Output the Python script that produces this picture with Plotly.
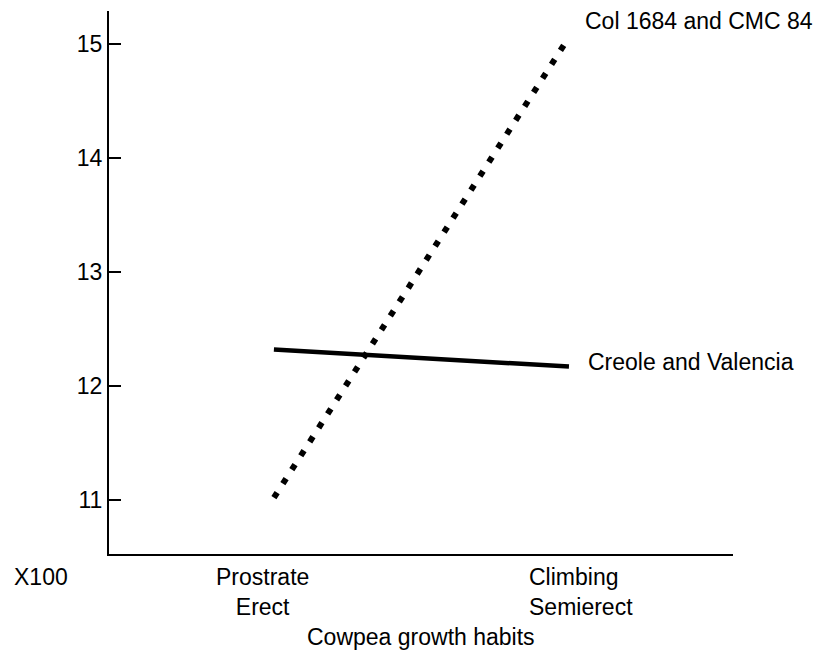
import plotly.graph_objects as go

# growth habit positions on the x axis (0 = prostrate/erect, 1 = climbing/semierect)
habit_pos = [0, 1]
habit_labels = ["Prostrate<br>Erect", "Climbing<br>Semierect"]

# yield values, x100
col_cmc = [11.02, 15.06]
creole_valencia = [12.32, 12.17]

y_ticks = [11, 12, 13, 14, 15]

FONT = "Liberation Sans, Arial, sans-serif"

fig = go.Figure()

fig.add_trace(go.Scatter(x=habit_pos, y=col_cmc, mode="lines",
                         line=dict(color="black", width=6, dash="6px,10.6px"),
                         hoverinfo="skip"))
fig.add_trace(go.Scatter(x=habit_pos, y=creole_valencia, mode="lines",
                         line=dict(color="black", width=4.5),
                         hoverinfo="skip"))

fig.update_layout(width=835, height=652,
                  paper_bgcolor="white", plot_bgcolor="white",
                  showlegend=False,
                  margin=dict(l=109, r=102, t=11, b=98),
                  font=dict(family=FONT, size=23, color="black"),
                  xaxis=dict(range=[-0.559, 1.556], showgrid=False, zeroline=False,
                             showline=True, linewidth=2, linecolor="black",
                             showticklabels=False, ticks=""),
                  yaxis=dict(range=[10.526, 15.289], showgrid=False, zeroline=False,
                             showline=True, linewidth=2, linecolor="black",
                             tickvals=y_ticks, ticks="inside", ticklen=12,
                             tickwidth=2, tickcolor="black",
                             ticklabelstandoff=0,
                             tickfont=dict(size=23)))

annotations = [
    dict(x=habit_pos[1], y=col_cmc[1], xref="x", yref="y",
         text="Col 1684 and CMC 84", xanchor="left", yanchor="middle",
         xshift=14, yshift=16, showarrow=False),
    dict(x=habit_pos[1], y=creole_valencia[1], xref="x", yref="y",
         text="Creole and Valencia", xanchor="left", yanchor="middle",
         xshift=17, yshift=5, showarrow=False),
    dict(x=habit_pos[0], y=0, xref="x", yref="paper",
         text=habit_labels[0], xanchor="center", yanchor="top", align="center",
         xshift=-11, yshift=-8, showarrow=False),
    dict(x=habit_pos[1], y=0, xref="x", yref="paper",
         text=habit_labels[1], xanchor="left", yanchor="top", align="left",
         xshift=-42, yshift=-8, showarrow=False),
    dict(x=0, y=0, xref="paper", yref="paper",
         text="X100", xanchor="right", yanchor="top",
         xshift=-39, yshift=-8, showarrow=False),
    dict(x=0.5, y=0, xref="paper", yref="paper",
         text="Cowpea growth habits", xanchor="center", yanchor="top",
         xshift=0, yshift=-68, showarrow=False),
]
fig.update_layout(annotations=annotations)

fig.write_html("out.html", config={"displayModeBar": False},
               post_script="document.body.style.margin='0';")
